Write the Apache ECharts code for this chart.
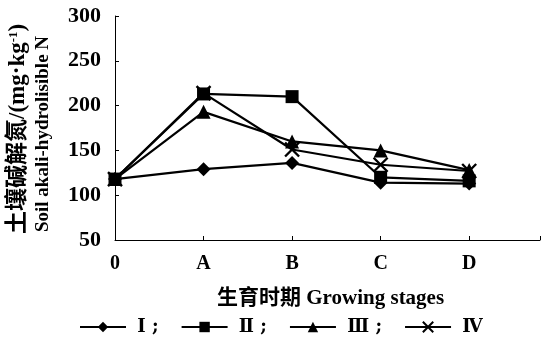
<!DOCTYPE html>
<html><head><meta charset="utf-8">
<script src="https://cdn.jsdelivr.net/npm/echarts@6/dist/echarts.min.js"></script>
<style>html,body{margin:0;padding:0;background:#fff}#c{width:554px;height:350px}</style>
</head><body><div id="c"></div>
<script>
const stages = ['0', 'A', 'B', 'C', 'D'];
const yTicks = [50, 100, 150, 200, 250, 300];
const seriesNames = ['Ⅰ', 'Ⅱ', 'Ⅲ', 'Ⅳ'];
const sI = [118, 129, 136, 114, 113];
const sII = [118, 213, 210, 120, 116];
const sIII = [118, 193, 160, 150, 128];
const sIV = [118, 214, 151, 134, 127];

const serif = '"Liberation Serif", "Noto Sans CJK SC", serif';
const xPath = 'path://M0,0L10,10M10,0L0,10';
const toPts = arr => arr.map((v, i) => [i, v]);

function mk(name, data, symbol, size, extra) {
  return Object.assign({
    name, type: 'line', data: toPts(data), symbol, symbolSize: size,
    lineStyle: { color: '#000', width: 2.2 },
    itemStyle: { color: '#000', borderColor: '#000', borderWidth: 0 },
    emphasis: { disabled: true }, animation: false
  }, extra || {});
}

const chart = echarts.init(document.getElementById('c'), null, { renderer: 'canvas' });
chart.setOption({
  animation: false,
  backgroundColor: '#fff',
  grid: { left: 115, right: 14, top: 16, bottom: 110, containLabel: false },
  xAxis: {
    type: 'value', min: 0, max: 4.8, interval: 1,
    axisLine: { lineStyle: { color: '#000', width: 1 } },
    axisTick: { inside: true, length: 4, lineStyle: { color: '#000' } },
    axisLabel: { color: '#000', fontFamily: serif, fontSize: 20, fontWeight: 'bold', margin: 14,
      formatter: v => (Number.isInteger(v) && stages[v] !== undefined) ? stages[v] : '' },
    splitLine: { show: false }
  },
  yAxis: {
    type: 'value', min: yTicks[0], max: yTicks[yTicks.length - 1], interval: 50,
    axisLine: { show: true, lineStyle: { color: '#000', width: 1 } },
    axisTick: { show: true, inside: true, length: 4, lineStyle: { color: '#000' } },
    axisLabel: { color: '#000', fontFamily: serif, fontSize: 22, fontWeight: 'bold', margin: 14 },
    splitLine: { show: false }
  },
  legend: {
    bottom: 9, left: 74, itemWidth: 46, itemHeight: 13, itemGap: 22,
    data: seriesNames,
    textStyle: { color: '#000', fontFamily: '"DejaVu Serif", "Liberation Serif", serif', fontSize: 18, fontWeight: 'bold' },
    formatter: n => n === 'Ⅳ' ? ' ' + n : ' ' + n + ' ;'
  },
  graphic: [
    { type: 'text', left: 217, top: 288, style: { text: '生育时期 Growing stages', fill: '#000',
      font: 'bold 21px "Liberation Serif", "Noto Sans CJK SC", serif' } },
    { type: 'text', rotation: Math.PI / 2, x: 7, y: 234,
      style: { text: '{a|土壤碱解氮/(mg·kg}{s|-1}{a|)}', fill: '#000',
        rich: { a: { fontFamily: serif, fontSize: 23, fontWeight: 'bold', fill: '#000' },
                s: { fontFamily: serif, fontSize: 13, fontWeight: 'bold', verticalAlign: 'top', padding: [0,0,9,0], fill: '#000' } } } },
    { type: 'text', rotation: Math.PI / 2, x: 34, y: 232,
      style: { text: 'Soil akali-hydrolisible N', fill: '#000',
        font: 'bold 19px "Liberation Serif", serif' } }
  ],
  series: [
    mk('Ⅰ', sI, 'diamond', 14),
    mk('Ⅱ', sII, 'rect', 13),
    mk('Ⅲ', sIII, 'triangle', 14),
    mk('Ⅳ', sIV, xPath, 14, { itemStyle: { color: 'none', borderColor: '#000', borderWidth: 2.4 } })
  ]
});
</script></body></html>
